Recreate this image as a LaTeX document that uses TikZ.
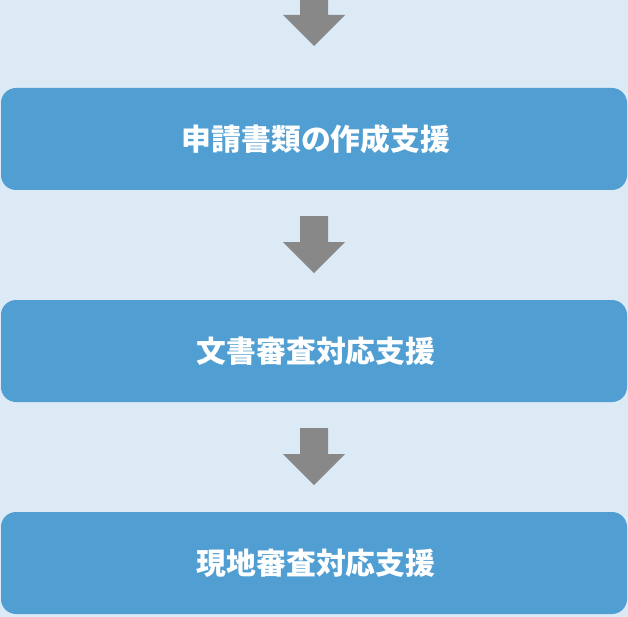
\documentclass[tikz,border=0pt]{standalone}
\usepackage{fontspec}
\newfontfamily\cjk{Noto Sans CJK JP}
\definecolor{bgc}{HTML}{DCEAF6}
\definecolor{boxc}{HTML}{519FD2}
\definecolor{arrc}{HTML}{888888}
\newcommand{\stagetext}[1]{\hspace*{4pt}#1}
\begin{document}
\begin{tikzpicture}[x=1pt,y=-1pt,
  stagebox/.style={fill=boxc,draw=none,rounded corners=15pt,minimum width=626pt,minimum height=102pt,inner sep=0pt,
    text=white,font=\cjk\bfseries\fontsize{29.8}{32}\selectfont},
  downarrow/.style={fill=arrc,draw=none}]
\fill[bgc] (0,0) rectangle (628,617);
\useasboundingbox (0,0) rectangle (628,617);
\node[stagebox] (b1) at (314,139) {\stagetext{申請書類の作成支援}};
\node[stagebox] (b2) at (314,351) {\stagetext{文書審査対応支援}};
\node[stagebox] (b3) at (314,563) {\stagetext{現地審査対応支援}};
% arrows
\fill[downarrow] (300,0) -- (328,0) -- (328,15) -- (345,15) -- (314,46) -- (283,15) -- (300,15) -- cycle;
\fill[downarrow] ([xshift=-14pt,yshift=-26pt]b1.south) -- ++(28,0) -- ++(0,26) -- ++(17,0) -- ++(-31,31) -- ++(-31,-31) -- ++(17,0) -- cycle;
\fill[downarrow] ([xshift=-14pt,yshift=-26pt]b2.south) -- ++(28,0) -- ++(0,26) -- ++(17,0) -- ++(-31,31) -- ++(-31,-31) -- ++(17,0) -- cycle;
\end{tikzpicture}
\end{document}
